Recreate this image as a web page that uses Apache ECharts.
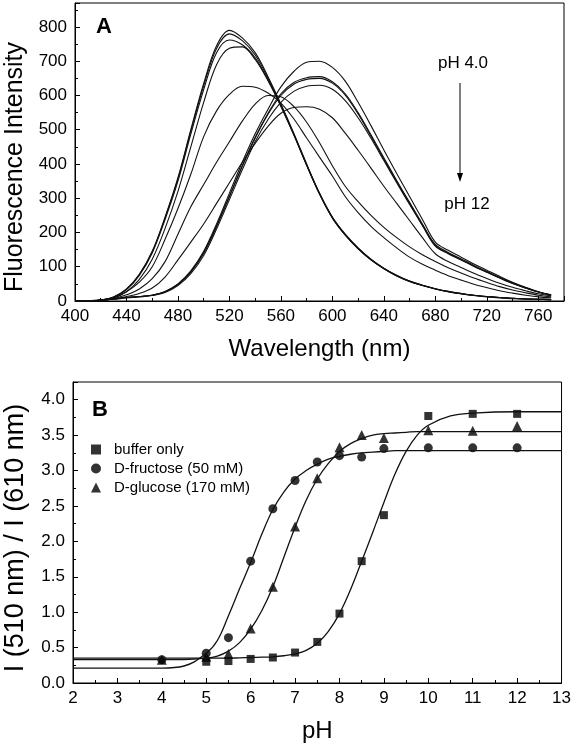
<!DOCTYPE html>
<html>
<head>
<meta charset="utf-8">
<script src="https://cdn.jsdelivr.net/npm/echarts@6/dist/echarts.min.js"></script>
<style>
html,body{margin:0;padding:0;background:#fff;}
#chart{width:574px;height:750px;}
</style>
</head>
<body>
<div id="chart"></div>
<script>
// ---------- Panel A: emission spectra ----------
const wavelengths = [400,410,420,430,440,450,460,470,480,490,500,510,520,530,540,550,560,570,580,590,600,610,620,630,640,650,660,670,680,690,700,710,720,730,740,750,760,770];
const specG1 = [0,1,3,12,35,78,145,245,360,500,635,745,790,768,725,655,575,490,400,315,245,195,155,122,96,75,58,46,36,28,22,17,13,10,8,6,5,4];
const specG2 = [0,1,3,12,34,77,143,243,357,496,628,737,780,760,718,650,572,488,398,314,244,194,154,121,95,74,58,46,36,28,22,17,13,10,8,6,5,4];
const specG3 = [0,1,3,11,33,75,140,238,350,487,617,725,762,748,710,645,570,486,397,313,243,193,153,120,95,74,57,45,35,27,21,16,13,10,8,6,5,4];
const specG4 = [0,1,2,9,27,63,122,212,320,450,580,690,738,742,705,643,568,485,396,312,242,192,152,120,94,73,57,45,35,27,21,16,12,9,7,6,5,4];
const specM1 = [0,1,3,10,27,55,100,180,270,370,480,555,603,627,624,607,578,532,476,420,365,305,258,218,185,155,128,107,90,74,61,49,39,30,23,17,12,9];
const specM2 = [0,1,2,7,18,35,65,115,195,275,340,405,465,525,575,600,596,568,522,462,395,335,290,250,215,185,158,135,115,97,82,67,54,42,32,24,17,12];
const specM3 = [0,0,2,6,13,22,38,70,120,172,225,285,345,405,460,510,548,565,567,560,535,490,440,388,335,285,235,185,138,115,98,81,66,52,40,30,21,15];
const specR1 = [0,0,2,6,10,13,17,28,50,88,145,225,315,405,488,560,625,670,697,700,682,642,580,512,441,372,305,238,172,148,128,108,90,72,55,40,27,18];
const specR2 = [0,0,2,6,10,13,17,27,48,85,140,218,306,395,478,548,605,638,652,655,640,605,550,485,418,352,288,225,165,142,123,104,86,69,53,39,27,18];
const specR3 = [0,0,2,6,10,13,17,27,48,85,140,218,305,393,475,545,600,633,647,650,636,601,546,481,414,348,285,222,162,140,121,102,85,68,52,38,26,17];
const specR4 = [0,0,2,5,9,12,16,25,45,80,133,210,296,383,465,530,580,612,627,630,618,585,535,475,410,345,282,220,160,138,120,101,84,67,51,38,26,17];
const spectra = [specG1,specG2,specG3,specG4,specM1,specM2,specM3,specR1,specR2,specR3,specR4];

// ---------- Panel B: ratio vs pH ----------
const bufferPH = [5,5.5,6,6.5,7,7.5,8,8.5,9,10,11,12];
const bufferRatio = [0.30,0.31,0.34,0.36,0.43,0.58,0.98,1.72,2.37,3.77,3.80,3.80];
const fructosePH = [4,5,5.5,6,6.5,7,7.5,8,8.5,9,10,11,12];
const fructoseRatio = [0.33,0.42,0.64,1.72,2.46,2.86,3.12,3.21,3.19,3.31,3.32,3.32,3.32];
const glucosePH = [4,5,5.5,6,6.5,7,7.5,8,8.5,9,10,11,12];
const glucoseRatio = [0.33,0.37,0.41,0.77,1.36,2.21,2.89,3.33,3.50,3.46,3.57,3.56,3.63];

const fitPH = [2,3,4,4.5,5,5.25,5.5,5.75,6,6.25,6.5,6.75,7,7.25,7.5,7.75,8,8.25,8.5,8.75,9,9.25,9.5,9.75,10,10.5,11,12,13];
const fitBuffer = [0.35,0.35,0.35,0.35,0.35,0.35,0.35,0.355,0.36,0.365,0.37,0.385,0.41,0.46,0.56,0.73,0.98,1.32,1.72,2.13,2.55,2.95,3.27,3.5,3.64,3.77,3.81,3.83,3.83];
const fitFructose = [0.21,0.21,0.21,0.24,0.42,0.6,0.95,1.33,1.70,2.1,2.45,2.7,2.88,3.0,3.09,3.16,3.2,3.23,3.25,3.26,3.27,3.28,3.28,3.28,3.28,3.28,3.28,3.28,3.28];
const fitGlucose = [0.33,0.33,0.33,0.33,0.35,0.38,0.45,0.57,0.76,1.02,1.36,1.78,2.2,2.58,2.88,3.1,3.27,3.38,3.45,3.5,3.52,3.53,3.54,3.55,3.55,3.55,3.55,3.55,3.55];

const legendNames = ['buffer only','D-fructose (50 mM)','D-glucose (170 mM)'];

const FONT = 'Liberation Sans, Arial, Helvetica, sans-serif';
const zip = (xs, ys) => xs.map((x, i) => [x, ys[i]]);

const axisCommon = {
  axisLine: {show: true, onZero: false, lineStyle: {color: '#000', width: 1}},
  axisTick: {show: true, inside: true, length: 5, lineStyle: {color: '#000'}},
  minorTick: {show: true, splitNumber: 2, length: 3, lineStyle: {color: '#000'}},
  splitLine: {show: false},
  nameTextStyle: {color: '#000', fontFamily: FONT, fontSize: 24},
  nameLocation: 'middle'
};

const series = [];
spectra.forEach((s, i) => {
  series.push({
    type: 'line', xAxisIndex: 0, yAxisIndex: 0,
    data: zip(wavelengths, s), smooth: 0.35, symbol: 'none',
    lineStyle: {color: '#111', width: 1.1}, silent: true
  });
});
[fitBuffer, fitFructose, fitGlucose].forEach(f => {
  series.push({
    type: 'line', xAxisIndex: 1, yAxisIndex: 1,
    data: zip(fitPH, f), smooth: 0.4, symbol: 'none',
    lineStyle: {color: '#111', width: 1.3}, silent: true
  });
});
series.push({name: legendNames[0], type: 'scatter', xAxisIndex: 1, yAxisIndex: 1, symbol: 'rect', symbolSize: 8, itemStyle: {color: '#000'}, data: zip(bufferPH, bufferRatio)});
series.push({name: legendNames[1], type: 'scatter', xAxisIndex: 1, yAxisIndex: 1, symbol: 'circle', symbolSize: 9, itemStyle: {color: '#000'}, data: zip(fructosePH, fructoseRatio)});
series.push({name: legendNames[2], type: 'scatter', xAxisIndex: 1, yAxisIndex: 1, symbol: 'triangle', symbolSize: 10, itemStyle: {color: '#000'}, data: zip(glucosePH, glucoseRatio)});

const chart = echarts.init(document.getElementById('chart'), null, {renderer: 'canvas'});
chart.setOption({
  backgroundColor: '#fff',
  animation: false,
  textStyle: {fontFamily: FONT},
  grid: [
    {left: 75, right: 10, top: 3, bottom: 449, show: true, borderColor: '#000', borderWidth: 1, backgroundColor: 'transparent'},
    {left: 73, right: 9, top: 382, bottom: 67, show: true, borderColor: '#000', borderWidth: 1, backgroundColor: 'transparent'}
  ],
  xAxis: [
    Object.assign({}, axisCommon, {
      gridIndex: 0, type: 'value', min: 400, max: 780, interval: 40,
      name: 'Wavelength (nm)', nameGap: 36,
      axisLabel: {color: '#000', fontSize: 17, fontFamily: FONT, margin: 7,
        formatter: v => (v % 40 === 0 && v <= 760 ? String(v) : '')}
    }),
    Object.assign({}, axisCommon, {
      gridIndex: 1, type: 'value', min: 2, max: 13, interval: 1,
      name: 'pH', nameGap: 36,
      axisLabel: {color: '#000', fontSize: 17, fontFamily: FONT, margin: 7}
    })
  ],
  yAxis: [
    Object.assign({}, axisCommon, {
      gridIndex: 0, type: 'value', min: 0, max: 870, interval: 100,
      name: '',
      axisLabel: {color: '#000', fontSize: 17, fontFamily: FONT, margin: 8,
        formatter: v => (v % 100 === 0 ? String(v) : '')}
    }),
    Object.assign({}, axisCommon, {
      gridIndex: 1, type: 'value', min: 0, max: 4.25, interval: 0.5,
      name: '',
      axisLabel: {color: '#000', fontSize: 17, fontFamily: FONT, margin: 8,
        formatter: v => (Math.abs(v * 2 - Math.round(v * 2)) < 1e-6 ? v.toFixed(1) : '')}
    })
  ],
  legend: {
    data: legendNames.map(n => ({name: n})),
    orient: 'vertical', left: 86, top: 437,
    itemWidth: 10, itemHeight: 10, itemGap: 4,
    textStyle: {color: '#000', fontSize: 15, fontFamily: FONT, padding: [0, 0, 0, 8]},
    selectedMode: false
  },
  graphic: [
    {type: 'text', x: 15, y: 167, rotation: Math.PI / 2, style: {text: 'Fluorescence Intensity', font: '25px ' + FONT, fill: '#000', textAlign: 'center', textVerticalAlign: 'middle'}},
    {type: 'text', x: 16, y: 538, rotation: Math.PI / 2, style: {text: 'I (510 nm) / I (610 nm)', font: '27px ' + FONT, fill: '#000', textAlign: 'center', textVerticalAlign: 'middle'}},
    {type: 'text', left: 96, top: 16, style: {text: 'A', font: 'bold 22px ' + FONT, fill: '#000'}},
    {type: 'text', left: 92, top: 399, style: {text: 'B', font: 'bold 22px ' + FONT, fill: '#000'}},
    {type: 'text', x: 463, y: 63, style: {text: 'pH 4.0', font: '17px ' + FONT, fill: '#000', textAlign: 'center', textVerticalAlign: 'middle'}},
    {type: 'text', x: 467, y: 204, style: {text: 'pH 12', font: '17px ' + FONT, fill: '#000', textAlign: 'center', textVerticalAlign: 'middle'}},
    {type: 'line', shape: {x1: 460, y1: 83, x2: 460, y2: 176}, style: {stroke: '#000', lineWidth: 1}},
    {type: 'polygon', shape: {points: [[457, 173], [463, 173], [460, 182]]}, style: {fill: '#000'}}
  ],
  series: series
});
</script>
</body>
</html>
